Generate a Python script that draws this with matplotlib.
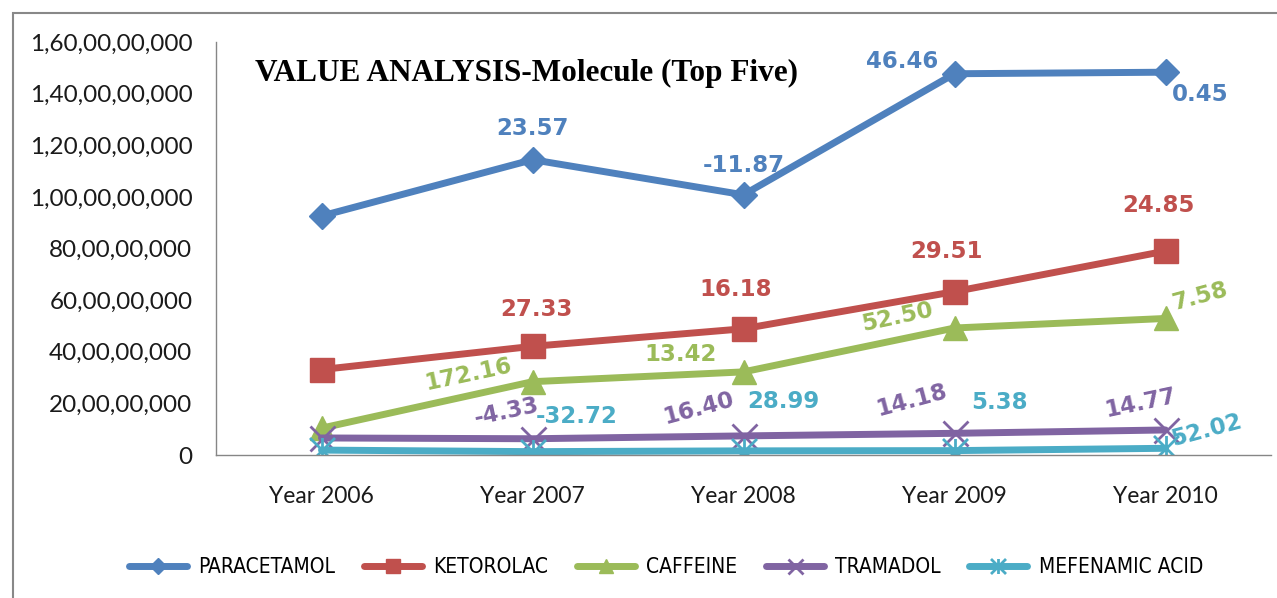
import matplotlib.pyplot as plt
from matplotlib.path import Path
from matplotlib.patches import Rectangle
from matplotlib.ticker import FuncFormatter

years = ['Year 2006', 'Year 2007', 'Year 2008', 'Year 2009', 'Year 2010']
names = ['PARACETAMOL', 'KETOROLAC', 'CAFFEINE', 'TRAMADOL', 'MEFENAMIC ACID']

# sales value per year
paracetamol = [926e6, 1144e6, 1008e6, 1477e6, 1483e6]
ketorolac = [331e6, 421e6, 489e6, 633e6, 790e6]
caffeine = [104e6, 284e6, 322e6, 492e6, 529e6]
tramadol = [66e6, 63e6, 74e6, 84e6, 97e6]
mefenamic = [19e6, 13e6, 16e6, 17e6, 26e6]

# growth % labels (no label for first year)
par_growth = ['', '23.57', '-11.87', '46.46', '0.45']
ket_growth = ['', '27.33', '16.18', '29.51', '24.85']
caf_growth = ['', '172.16', '13.42', '52.50', '7.58']
tra_growth = ['', '-4.33', '16.40', '14.18', '14.77']
mef_growth = ['', '-32.72', '28.99', '5.38', '52.02']

series = [paracetamol, ketorolac, caffeine, tramadol, mefenamic]
growths = [par_growth, ket_growth, caf_growth, tra_growth, mef_growth]
colors = ['#4F81BD', '#C0504D', '#9BBB59', '#8064A2', '#4BACC6']

# asterisk marker like excel's "star"
star = Path([(-0.5, -0.5), (0.5, 0.5), (-0.5, 0.5), (0.5, -0.5), (0, -0.5), (0, 0.5)],
            [Path.MOVETO, Path.LINETO, Path.MOVETO, Path.LINETO, Path.MOVETO, Path.LINETO])
markers = ['D', 's', '^', 'x', star]
msizes = [13, 17, 17, 18, 18]

# label placement (dx, dy in pixels, rotation)
label_pos = [
    [None, (0, 31, 0), (0, 29, 0), (-52, 12, 0), (35, -22, 0)],
    [None, (4, 37, 0), (-8, 39, 0), (-8, 40, 0), (-7, 46, 0)],
    [None, (-64, 7, 12), (-63, 17, 0), (-57, 11, 12), (35, 22, 15)],
    [None, (-26, 27, 12), (-45, 28, 15), (-43, 33, 15), (-25, 27, 12)],
    [None, (44, 35, 0), (40, 49, 0), (45, 48, 0), (41, 18, 15)],
]


def indian(v, pos=None):
    s = str(int(round(v)))
    if len(s) <= 3:
        return s
    head, tail = s[:-3], s[-3:]
    parts = []
    while len(head) > 2:
        parts.insert(0, head[-2:])
        head = head[:-2]
    if head:
        parts.insert(0, head)
    return ','.join(parts + [tail])


fig = plt.figure(figsize=(12.77, 5.98), dpi=100)
ax = fig.add_axes([216/1277, 1-455/598, 1055/1277, 413/598])

x = list(range(len(years)))
for vals, name, c, m, ms in zip(series, names, colors, markers, msizes):
    mew = 2 if m in ('x',) or isinstance(m, Path) else 1
    ax.plot(x, vals, color=c, lw=5, marker=m, ms=ms, mec=c, mfc=c, mew=mew,
            label=name, solid_capstyle='round')

for vals, labs, c, pos in zip(series, growths, colors, label_pos):
    for i, (v, t) in enumerate(zip(vals, labs)):
        if not t:
            continue
        dx, dy, rot = pos[i]
        ax.annotate(t, (i, v), xytext=(dx, dy), textcoords='offset pixels',
                    ha='center', va='center', rotation=rot, color=c,
                    fontsize=16.5, fontweight='bold', family='DejaVu Sans', zorder=5)

ax.set_xlim(-0.5, 4.5)
ax.set_ylim(0, 1.6e9)
ax.set_yticks([i * 2e8 for i in range(9)])
ax.yaxis.set_major_formatter(FuncFormatter(indian))
ax.set_xticks(x)
ax.set_xticklabels(years)
ax.tick_params(length=0, colors='#1a1a1a')
ax.tick_params(axis='y', pad=17, labelsize=17.5)
ax.tick_params(axis='x', pad=22, labelsize=16.5)
for lab in ax.get_xticklabels() + ax.get_yticklabels():
    lab.set_family('Lato')
for s in ['top', 'right']:
    ax.spines[s].set_visible(False)
for s in ['left', 'bottom']:
    ax.spines[s].set_color('#868686')
    ax.spines[s].set_linewidth(1)

ax.text(39/1055, 1-31/413, 'VALUE ANALYSIS-Molecule (Top Five)', transform=ax.transAxes,
        ha='left', va='center', fontsize=22.5, fontweight='bold', family='Liberation Serif')

leg = fig.legend(loc='center', bbox_to_anchor=(666/1277, 1-567/598), ncol=5, frameon=False,
                 handlelength=2.8, handletextpad=0.55, columnspacing=1.35, markerscale=0.6,
                 prop={'family': 'DejaVu Sans', 'stretch': 'condensed', 'size': 15})

fig.patches.append(Rectangle((13/1277, -0.1), 1.2, 1.1-13/598, transform=fig.transFigure,
                             fill=False, ec='#888888', lw=1.5))

fig.savefig('out.png', dpi=100)
